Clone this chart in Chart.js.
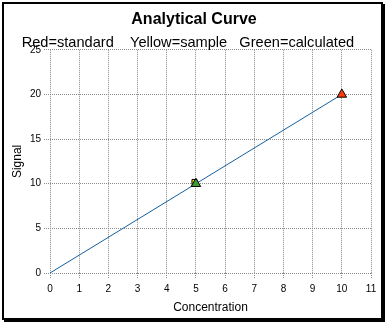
<!DOCTYPE html>
<html>
<head>
<meta charset="utf-8">
<title>Analytical Curve</title>
<script src="https://cdn.jsdelivr.net/npm/chart.js@4.4.1/dist/chart.umd.min.js"></script>
<style>
    body { margin: 0; background: #fff; }
    #wrap { position: relative; width: 388px; height: 326px; }
    #curveChart { display: block; }
    #frame {
        position: absolute; left: 2px; top: 2px; width: 381px; height: 318px;
        box-sizing: border-box; border: 2px solid #000; box-shadow: 2px 2px 0 #000;
        pointer-events: none;
    }
</style>
</head>
<body>
<div id="wrap">
    <canvas id="curveChart" width="388" height="326"></canvas>
    <div id="frame"></div>
</div>
<script>
// calibration line and the three marked points
const curveX = [0, 10];
const curveY = [0, 20];
const standardX = [10];
const standardY = [20];
const sampleX = [4.95];
const sampleY = [10.2];
const calculatedX = [5];
const calculatedY = [10];

const xTickValues = [0, 1, 2, 3, 4, 5, 6, 7, 8, 9, 10, 11];
const yTickValues = [0, 5, 10, 15, 20, 25];

const toPoints = (xs, ys) => xs.map((x, i) => ({ x: x, y: ys[i] }));

const gridStyle = {
    color: '#8c8c8c',
    lineWidth: 1,
    tickBorderDash: [1, 1]
};
// in v4 the grid line dash comes from the border options
const borderStyle = { display: false, dash: [1, 1] };

const ctx = document.getElementById('curveChart').getContext('2d');

const curveChart = new Chart(ctx, {
    type: 'scatter',
    data: {
        datasets: [
            {
                label: 'Curve',
                data: toPoints(curveX, curveY),
                showLine: true,
                borderColor: '#13609f',
                borderWidth: 1,
                pointRadius: 0,
                order: 4
            },
            {
                label: 'Standard',
                data: toPoints(standardX, standardY),
                pointStyle: 'triangle',
                pointRadius: 5.5,
                backgroundColor: '#ff3b0a',
                borderColor: '#000',
                borderWidth: 1,
                order: 3
            },
            {
                label: 'Sample',
                data: toPoints(sampleX, sampleY),
                pointStyle: 'rect',
                pointRadius: 3.5,
                backgroundColor: '#ffdd11',
                borderColor: '#000',
                borderWidth: 1,
                order: 2
            },
            {
                label: 'Calculated',
                data: toPoints(calculatedX, calculatedY),
                pointStyle: 'triangle',
                pointRadius: 5.5,
                backgroundColor: '#3c9a2e',
                borderColor: '#000',
                borderWidth: 1,
                order: 1
            }
        ]
    },
    options: {
        responsive: false,
        animation: false,
        events: [],
        layout: {
            padding: { top: 3, left: 0, right: 0, bottom: 4 }
        },
        plugins: {
            legend: { display: false },
            tooltip: { enabled: false },
            title: {
                display: true,
                text: 'Analytical Curve',
                color: '#000',
                font: { family: 'Liberation Sans', size: 16, weight: 'bold' },
                padding: { top: 7, bottom: 0 }
            },
            subtitle: {
                display: true,
                text: 'Red=standard    Yellow=sample   Green=calculated   ',
                color: '#000',
                font: { family: 'Liberation Sans', size: 14.6, lineHeight: 1.0 },
                padding: { top: 6, bottom: 0 }
            }
        },
        scales: {
            x: {
                type: 'linear',
                min: 0,
                max: 11,
                afterBuildTicks: (scale) => {
                    scale.ticks = xTickValues.map(v => ({ value: v }));
                },
                afterFit: (scale) => {
                    scale.height = 49;
                    scale.paddingRight = 17;
                },
                grid: { ...gridStyle, tickLength: 5 },
                border: borderStyle,
                ticks: {
                    color: '#000',
                    padding: 5,
                    maxRotation: 0,
                    font: { family: 'Liberation Sans', size: 10 }
                },
                title: {
                    display: true,
                    text: 'Concentration',
                    color: '#000',
                    font: { family: 'Liberation Sans', size: 12 },
                    padding: { top: 0, bottom: 7 }
                }
            },
            y: {
                type: 'linear',
                min: 0,
                max: 25,
                afterBuildTicks: (scale) => {
                    scale.ticks = yTickValues.map(v => ({ value: v }));
                },
                afterFit: (scale) => {
                    scale.width = 50;
                },
                grid: { ...gridStyle, tickLength: 6 },
                border: borderStyle,
                ticks: {
                    color: '#000',
                    padding: 3,
                    font: { family: 'Liberation Sans', size: 10 }
                },
                title: {
                    display: true,
                    text: 'Signal',
                    color: '#000',
                    font: { family: 'Liberation Sans', size: 12 },
                    padding: { top: 10, bottom: 0 }
                }
            }
        }
    }
});
</script>
</body>
</html>
